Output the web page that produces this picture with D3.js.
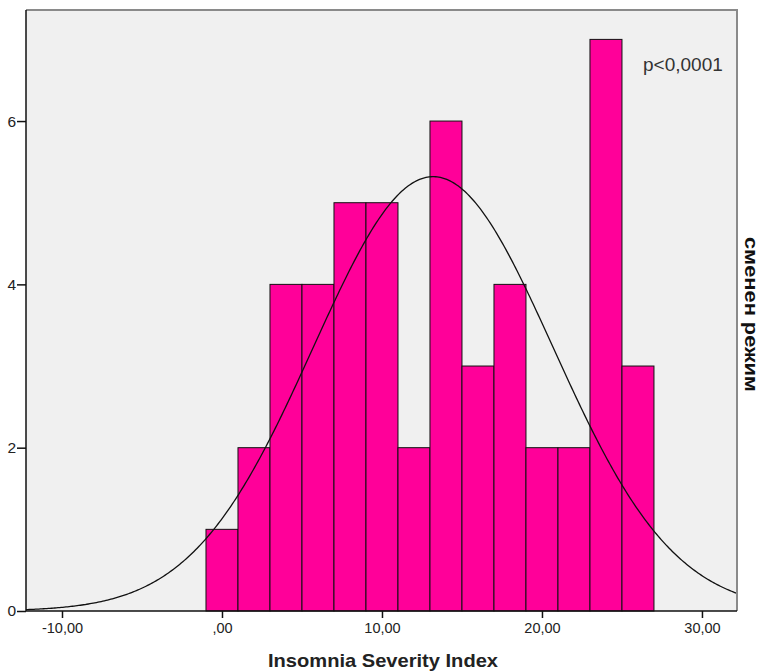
<!DOCTYPE html>
<html>
  <head>
    <meta charset="utf-8">
    <title>Insomnia Severity Index</title>
    <script src="https://cdn.jsdelivr.net/npm/d3@7"></script>
    <style>
    html, body { margin: 0; padding: 0; background: #fff; }
    #vis text { font-family: 'Liberation Sans', Arial, sans-serif; }
    .tick text { font-size: 14.5px; fill: #222; }
    .yaxis .tick text { font-size: 15.5px; }
    </style>
  </head>
  <body>
    <div id="vis"></div>
    <script>
      // histogram bins (edges) and counts
      var binStart = [-1, 1, 3, 5, 7, 9, 11, 13, 15, 17, 19, 21, 23, 25];
      var binWidth = 2;
      var counts = [1, 2, 4, 4, 5, 5, 2, 6, 3, 4, 2, 2, 7, 3];
      var xTicks = [-10, 0, 10, 20, 30];
      var xTickLabels = ['-10,00', ',00', '10,00', '20,00', '30,00'];
      var yTicks = [0, 2, 4, 6];
      var curveMean = 13.2, curveSd = 7.5, total = 50;

      var width = 763, height = 672;
      var pLeft = 26, pRight = 737, pTop = 10, pBottom = 611;

      var svg = d3.select('#vis').append('svg')
          .attr('width', width)
          .attr('height', height);

      var x = d3.scaleLinear().domain([-12.25, 32.19]).range([pLeft, pRight]);
      var y = d3.scaleLinear().domain([0, 7.36]).range([pBottom, pTop]);

      // plot background
      svg.append('rect')
          .attr('x', pLeft).attr('y', pTop)
          .attr('width', pRight - pLeft).attr('height', pBottom - pTop)
          .attr('fill', '#f0f0f0');

      // bars
      svg.selectAll('rect.bar')
          .data(counts)
          .enter()
          .append('rect')
          .attr('class', 'bar')
          .attr('x', function(d, i) { return x(binStart[i]); })
          .attr('y', function(d) { return y(d); })
          .attr('width', function(d, i) { return x(binStart[i] + binWidth) - x(binStart[i]); })
          .attr('height', function(d) { return y(0) - y(d); })
          .attr('fill', '#ff0099')
          .attr('stroke', '#111')
          .attr('stroke-width', 1);

      // normal curve
      var pts = d3.range(-12.25, 32.2, 0.1).map(function(v) {
        var z = (v - curveMean) / curveSd;
        return [v, total * binWidth / (curveSd * Math.sqrt(2 * Math.PI)) * Math.exp(-0.5 * z * z)];
      });
      svg.append('path')
          .datum(pts)
          .attr('fill', 'none')
          .attr('stroke', '#111')
          .attr('stroke-width', 1.3)
          .attr('d', d3.line()
              .x(function(d) { return x(d[0]); })
              .y(function(d) { return y(d[1]); }));

      // frame: grey top and right
      svg.append('path')
          .attr('d', 'M' + pLeft + ',' + pTop + 'H' + pRight + 'V' + pBottom)
          .attr('fill', 'none')
          .attr('stroke', '#8a8a8a')
          .attr('stroke-width', 2);

      // axes
      var xAxis = svg.append('g')
          .attr('transform', 'translate(0,' + pBottom + ')')
          .call(d3.axisBottom(x).tickValues(xTicks)
              .tickFormat(function(d, i) { return xTickLabels[i]; })
              .tickSize(7).tickPadding(5));
      xAxis.select('.domain').attr('stroke', '#111').attr('stroke-width', 1.5)
          .attr('d', 'M' + pLeft + ',0H' + pRight);
      xAxis.selectAll('.tick line').attr('stroke', '#111').attr('stroke-width', 1.5);

      var yAxis = svg.append('g')
          .attr('class', 'yaxis')
          .attr('transform', 'translate(' + pLeft + ',0)')
          .call(d3.axisLeft(y).tickValues(yTicks).tickSize(9).tickPadding(1));
      yAxis.select('.domain').attr('stroke', '#111').attr('stroke-width', 1.5)
          .attr('d', 'M0,' + pTop + 'V' + pBottom);
      yAxis.selectAll('.tick line').attr('stroke', '#111').attr('stroke-width', 1.5);

      // annotation
      svg.append('text')
          .attr('x', 643).attr('y', 71)
          .attr('font-size', 19)
          .attr('fill', '#333')
          .text('p<0,0001');

      // axis title
      svg.append('text')
          .attr('x', 268).attr('y', 667)
          .attr('font-size', 19)
          .attr('font-weight', 'bold')
          .attr('fill', '#222')
          .attr('textLength', 230)
          .attr('lengthAdjust', 'spacingAndGlyphs')
          .text('Insomnia Severity Index');

      // right label
      svg.append('text')
          .attr('transform', 'translate(745,237) rotate(90)')
          .attr('font-size', 19)
          .attr('font-weight', 'bold')
          .attr('fill', '#111')
          .attr('textLength', 155)
          .attr('lengthAdjust', 'spacingAndGlyphs')
          .text('сменен режим');
    </script>
  </body>
</html>
